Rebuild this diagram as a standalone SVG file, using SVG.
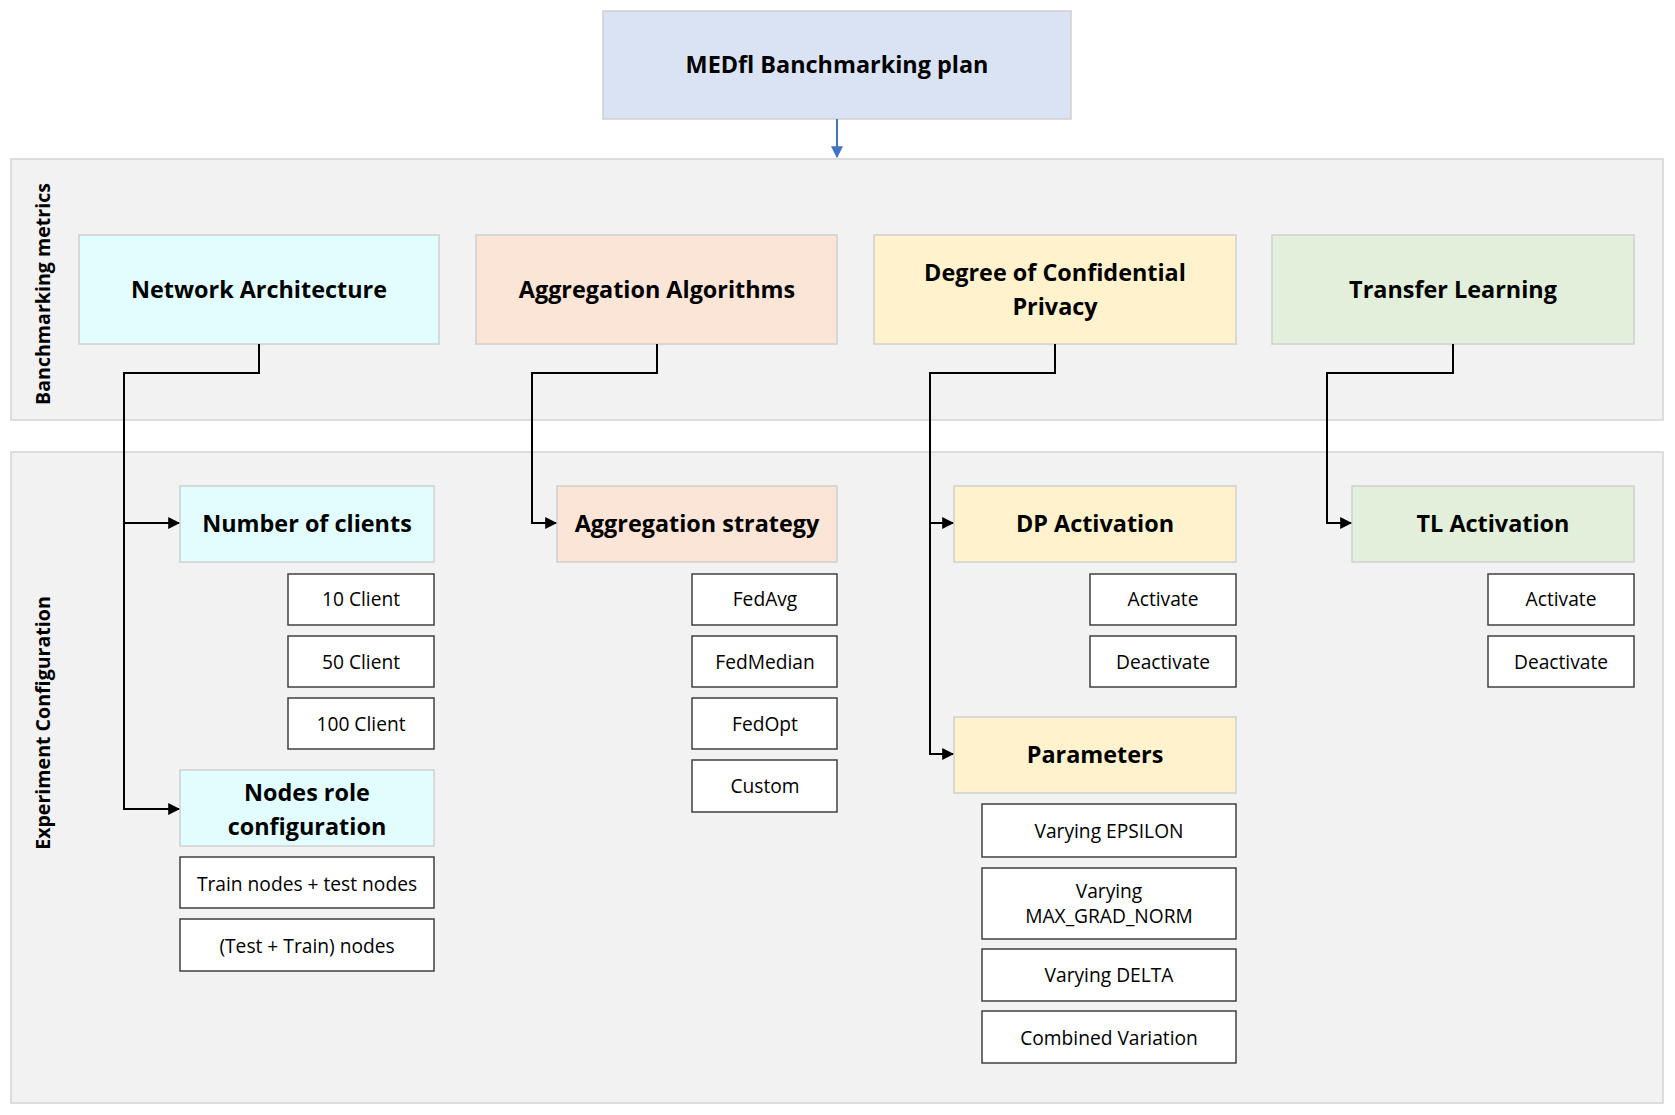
<svg xmlns="http://www.w3.org/2000/svg" width="1675" height="1115" viewBox="0 0 1675 1115">
<defs>
<style>
.sec{fill:#f2f2f2;stroke:#d4d4d4;stroke-width:1.5}
.hd{stroke:#d0d0d0;stroke-width:1.5}
.opt{fill:#ffffff;stroke:#404040;stroke-width:1.5}
.ht{font-family:"Open Sans","Noto Sans",sans-serif;font-weight:bold;font-size:23.4px;fill:#000;text-anchor:middle;dominant-baseline:central}
.ot{font-family:"Open Sans","Noto Sans",sans-serif;font-size:19.2px;fill:#000;text-anchor:middle;dominant-baseline:central}
.lab{font-family:"Open Sans","Noto Sans",sans-serif;font-weight:bold;font-size:19.6px;fill:#000;text-anchor:middle;dominant-baseline:central}
.con{fill:none;stroke:#000;stroke-width:2;marker-end:url(#ah)}
</style>
<marker id="ah" viewBox="0 0 10 10" refX="9" refY="5" markerWidth="6" markerHeight="6" orient="auto" markerUnits="strokeWidth">
<path d="M0,0 L10,5 L0,10 z" fill="#000"/>
</marker>
<marker id="ahb" viewBox="0 0 10 10" refX="9" refY="5" markerWidth="6" markerHeight="6" orient="auto" markerUnits="strokeWidth">
<path d="M0,0 L10,5 L0,10 z" fill="#4472c4"/>
</marker>
</defs>
<rect width="1675" height="1115" fill="#ffffff"/>

<g id="section-metrics">
<rect class="sec" x="11" y="159" width="1652" height="261"/>
<text class="lab" transform="translate(42,294) rotate(-90)">Banchmarking metrics</text>
</g>
<g id="section-config">
<rect class="sec" x="11" y="452" width="1652" height="651"/>
<text class="lab" transform="translate(42,723) rotate(-90)">Experiment Configuration</text>
</g>

<g id="plan">
<rect class="hd" x="603" y="11" width="468" height="108" fill="#dae3f3"/>
<text class="ht" x="837" y="64">MEDfl Banchmarking plan</text>
</g>

<g id="network-architecture">
<rect class="hd" x="79" y="235" width="360" height="109" fill="#e1fdfd"/>
<text class="ht" x="259" y="289">Network Architecture</text>
</g>
<g id="aggregation-algorithms">
<rect class="hd" x="476" y="235" width="361" height="109" fill="#fbe5d6"/>
<text class="ht" x="657" y="289">Aggregation Algorithms</text>
</g>
<g id="degree-privacy">
<rect class="hd" x="874" y="235" width="362" height="109" fill="#fff2cc"/>
<text class="ht" x="1055" y="272">Degree of Confidential</text>
<text class="ht" x="1055" y="306">Privacy</text>
</g>
<g id="transfer-learning">
<rect class="hd" x="1272" y="235" width="362" height="109" fill="#e2efda"/>
<text class="ht" x="1453" y="289">Transfer Learning</text>
</g>

<g id="number-of-clients">
<rect class="hd" x="180" y="486" width="254" height="76" fill="#e1fdfd"/>
<text class="ht" x="307" y="523">Number of clients</text>
</g>
<g id="client-10"><rect class="opt" x="288" y="574" width="146" height="51"/><text class="ot" x="361" y="598">10 Client</text></g>
<g id="client-50"><rect class="opt" x="288" y="636" width="146" height="51"/><text class="ot" x="361" y="661">50 Client</text></g>
<g id="client-100"><rect class="opt" x="288" y="698" width="146" height="51"/><text class="ot" x="361" y="723">100 Client</text></g>
<g id="nodes-role">
<rect class="hd" x="180" y="770" width="254" height="76" fill="#e1fdfd"/>
<text class="ht" x="307" y="792">Nodes role</text>
<text class="ht" x="307" y="826">configuration</text>
</g>
<g id="train-test"><rect class="opt" x="180" y="857" width="254" height="51"/><text class="ot" x="307" y="883">Train nodes + test nodes</text></g>
<g id="test-train"><rect class="opt" x="180" y="919" width="254" height="52"/><text class="ot" x="307" y="945">(Test + Train) nodes</text></g>

<g id="aggregation-strategy">
<rect class="hd" x="557" y="486" width="280" height="76" fill="#fbe5d6"/>
<text class="ht" x="697" y="523">Aggregation strategy</text>
</g>
<g id="fedavg"><rect class="opt" x="692" y="574" width="145" height="51"/><text class="ot" x="765" y="598">FedAvg</text></g>
<g id="fedmedian"><rect class="opt" x="692" y="636" width="145" height="51"/><text class="ot" x="765" y="661">FedMedian</text></g>
<g id="fedopt"><rect class="opt" x="692" y="698" width="145" height="51"/><text class="ot" x="765" y="723">FedOpt</text></g>
<g id="custom"><rect class="opt" x="692" y="760" width="145" height="52"/><text class="ot" x="765" y="785">Custom</text></g>

<g id="dp-activation">
<rect class="hd" x="954" y="486" width="282" height="76" fill="#fff2cc"/>
<text class="ht" x="1095" y="523">DP Activation</text>
</g>
<g id="dp-activate"><rect class="opt" x="1090" y="574" width="146" height="51"/><text class="ot" x="1163" y="598">Activate</text></g>
<g id="dp-deactivate"><rect class="opt" x="1090" y="636" width="146" height="51"/><text class="ot" x="1163" y="661">Deactivate</text></g>
<g id="parameters">
<rect class="hd" x="954" y="717" width="282" height="76" fill="#fff2cc"/>
<text class="ht" x="1095" y="754">Parameters</text>
</g>
<g id="epsilon"><rect class="opt" x="982" y="804" width="254" height="53"/><text class="ot" x="1109" y="830">Varying EPSILON</text></g>
<g id="max-grad"><rect class="opt" x="982" y="868" width="254" height="71"/><text class="ot" x="1109" y="890">Varying</text><text class="ot" x="1109" y="915">MAX_GRAD_NORM</text></g>
<g id="delta"><rect class="opt" x="982" y="949" width="254" height="52"/><text class="ot" x="1109" y="974">Varying DELTA</text></g>
<g id="combined"><rect class="opt" x="982" y="1011" width="254" height="52"/><text class="ot" x="1109" y="1037">Combined Variation</text></g>

<g id="tl-activation">
<rect class="hd" x="1352" y="486" width="282" height="76" fill="#e2efda"/>
<text class="ht" x="1493" y="523">TL Activation</text>
</g>
<g id="tl-activate"><rect class="opt" x="1488" y="574" width="146" height="51"/><text class="ot" x="1561" y="598">Activate</text></g>
<g id="tl-deactivate"><rect class="opt" x="1488" y="636" width="146" height="51"/><text class="ot" x="1561" y="661">Deactivate</text></g>

<g id="connectors">
<path d="M837,119 V157" fill="none" stroke="#4472c4" stroke-width="2" marker-end="url(#ahb)"/>
<path class="con" d="M259,344 V373 H124 V523 H179"/>
<path class="con" d="M124,523 V809 H179"/>
<path class="con" d="M657,344 V373 H532 V523 H556"/>
<path class="con" d="M1055,344 V373 H930 V523 H953"/>
<path class="con" d="M930,523 V754 H953"/>
<path class="con" d="M1453,344 V373 H1327 V523 H1351"/>
</g>
</svg>
